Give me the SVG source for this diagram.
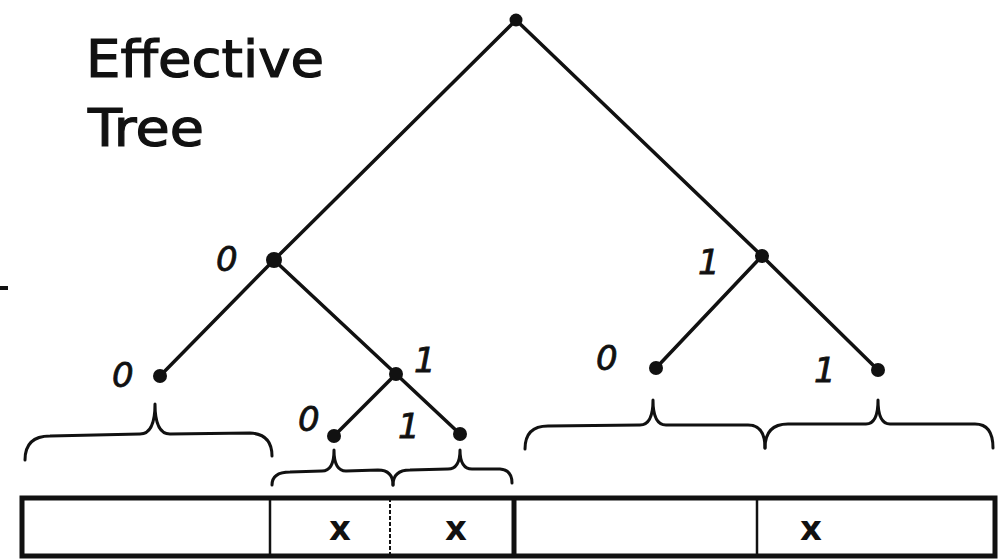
<svg xmlns="http://www.w3.org/2000/svg" width="1007" height="560" viewBox="0 0 1007 560">
<style>
.e{stroke:#111;stroke-width:3.5;fill:none;stroke-linecap:round}
.b{stroke:#111;stroke-width:3;fill:none;stroke-linecap:round;stroke-linejoin:round}
.d{fill:#111}
.t{font-family:"DejaVu Sans",sans-serif;fill:#111;stroke:#111;stroke-width:1.2}
.lbl{font-family:"DejaVu Sans",sans-serif;font-size:34px;font-style:italic;fill:#111;stroke:#111;stroke-width:0.8}
.x{font-family:"DejaVu Sans",sans-serif;font-size:34px;font-weight:bold;fill:#111;text-anchor:middle}
</style>
<rect width="1007" height="560" fill="#fff"/>
<g id="title">
<text class="t" x="86" y="77" font-size="52" textLength="238" lengthAdjust="spacingAndGlyphs">Effective</text>
<text class="t" x="88" y="146" font-size="52" textLength="116" lengthAdjust="spacingAndGlyphs">Tree</text>
</g>
<g id="connectors">
<line class="e" x1="516" y1="20" x2="274" y2="260"/>
<line class="e" x1="516" y1="20" x2="762" y2="256"/>
<line class="e" x1="274" y1="260" x2="160" y2="376"/>
<line class="e" x1="274" y1="260" x2="396" y2="374" stroke-width="5"/>
<line class="e" x1="396" y1="374" x2="334" y2="436"/>
<line class="e" x1="396" y1="374" x2="460" y2="434"/>
<line class="e" x1="762" y1="256" x2="656" y2="368"/>
<line class="e" x1="762" y1="256" x2="878" y2="370"/>
</g>
<g id="root"><circle class="d" cx="516" cy="20" r="6.5"/></g>
<g id="n0"><circle class="d" cx="274" cy="260" r="8"/><text class="lbl" x="216" y="271">0</text></g>
<g id="n1"><circle class="d" cx="762" cy="256" r="7"/><text class="lbl" x="698" y="274">1</text></g>
<g id="n00"><circle class="d" cx="160" cy="376" r="7"/><text class="lbl" x="112" y="387">0</text></g>
<g id="n01"><circle class="d" cx="396" cy="374" r="7"/><text class="lbl" x="414" y="372">1</text></g>
<g id="n010"><circle class="d" cx="334" cy="436" r="7"/><text class="lbl" x="298" y="431">0</text></g>
<g id="n011"><circle class="d" cx="460" cy="434" r="7"/><text class="lbl" x="398" y="438">1</text></g>
<g id="n10"><circle class="d" cx="656" cy="368" r="7"/><text class="lbl" x="596" y="370">0</text></g>
<g id="n11"><circle class="d" cx="878" cy="370" r="7"/><text class="lbl" x="814" y="382">1</text></g>
<g id="braces">
<path class="b" d="M25,460 Q25,436 50,436 L140,434 Q155,434 155,404 Q155,434 170,434 L250,433 Q272,434 272,456"/>
<path class="b" d="M272,485 Q272,472 290,472 L322,471 Q334,471 334,450 Q334,471 346,471 L378,470 Q393,470 393,485"/>
<path class="b" d="M393,485 Q393,470 410,470 L448,469 Q460,469 460,450 Q460,469 472,469 L500,469 Q512,470 512,483"/>
<path class="b" d="M525,449 Q525,426 548,426 L640,425 Q653,425 653,400 Q653,425 666,425 L748,425 Q765,425 765,448"/>
<path class="b" d="M765,448 Q765,424 788,424 L866,424 Q878,424 878,400 Q878,424 890,424 L975,424 Q993,424 993,448"/>
</g>
<g id="array">
<rect x="22" y="498" width="973" height="58" fill="none" stroke="#111" stroke-width="5"/>
<line x1="270" y1="498" x2="270" y2="556" stroke="#111" stroke-width="2.5"/>
<line x1="390" y1="498" x2="390" y2="556" stroke="#111" stroke-width="2" stroke-dasharray="4,2"/>
<line x1="514" y1="498" x2="514" y2="556" stroke="#111" stroke-width="5"/>
<line x1="757" y1="498" x2="757" y2="556" stroke="#111" stroke-width="2.5"/>
<text class="x" x="340" y="540">x</text>
<text class="x" x="456" y="540">x</text>
<text class="x" x="811" y="540">x</text>
</g>
<line x1="0" y1="288" x2="8" y2="288" stroke="#111" stroke-width="4"/>
</svg>
